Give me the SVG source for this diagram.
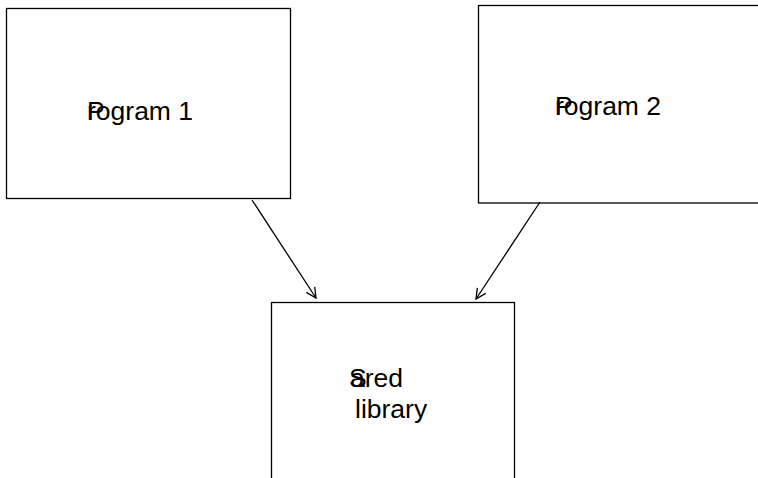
<svg xmlns="http://www.w3.org/2000/svg" width="758" height="478" viewBox="0 0 758 478">
<style>
.box{fill:#fff;stroke:#000;stroke-width:1.3}
.t{font-family:"Liberation Sans",Arial,sans-serif;font-size:26.5px;fill:#000}
.c{fill:none;stroke:#000;stroke-width:1.3}
</style>
<defs>
<marker id="arr" viewBox="0 0 12 12" refX="11" refY="6" markerWidth="12" markerHeight="12" markerUnits="userSpaceOnUse" orient="auto">
<path d="M1,1 L11,6 L1,11" fill="none" stroke="#000" stroke-width="1.3"/>
</marker>
</defs>
<rect width="758" height="478" fill="#fff"/>
<g id="program1">
<rect class="box" x="6.5" y="8.5" width="284" height="190"/>
<text class="t" x="87" y="120">P</text>
<text class="t" x="87" y="120">rogram 1</text>
</g>
<g id="program2">
<rect class="box" x="478.5" y="5.5" width="290" height="197.5"/>
<text class="t" x="555" y="115">P</text>
<text class="t" x="555" y="115">rogram 2</text>
</g>
<g id="shared">
<rect class="box" x="271.5" y="302.5" width="243" height="190"/>
<text class="t" x="349" y="387">S</text>
<text class="t" x="350" y="387">ared</text>
<text class="t" x="355" y="418">library</text>
</g>
<g id="connectors">
<path class="c" d="M252,200 L316,298" marker-end="url(#arr)"/>
<path class="c" d="M540,202 L476,299" marker-end="url(#arr)"/>
</g>
</svg>
